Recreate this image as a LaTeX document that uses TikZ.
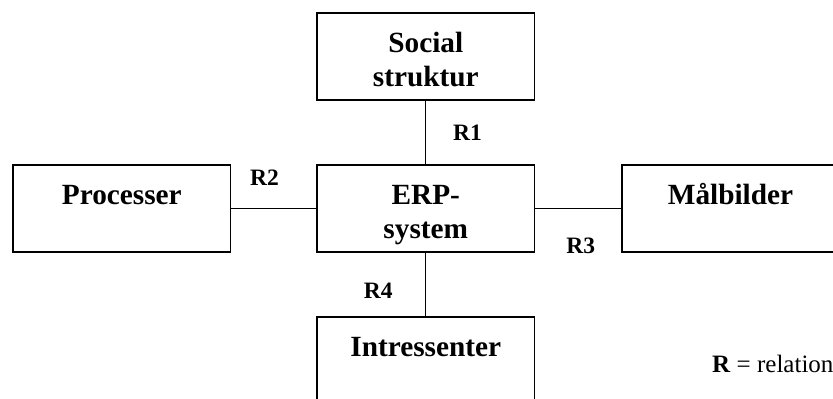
\documentclass[tikz,border=0pt]{standalone}
\usepackage{fontspec}
\setmainfont{Liberation Serif}
\begin{document}
\begin{tikzpicture}[x=1pt,y=-1pt,
  box/.style={draw, line width=1.8pt, minimum width=217.5pt, minimum height=87pt,
              inner sep=0pt, outer sep=0pt},
  boxtext/.style={anchor=base, align=center, inner sep=0pt,
                  font=\fontsize{29.3}{34.3}\selectfont\bfseries},
  rel/.style={anchor=base, inner sep=0pt, font=\fontsize{23.5}{28}\selectfont\bfseries},
  link/.style={line width=1.3pt}]
\useasboundingbox (0,0) rectangle (833,399);

% boxes
\node[box] (soc)  at (425.8,56.2)  {};
\node[box] (proc) at (121.8,208.2) {};
\node[box] (erp)  at (425.8,208.2) {};
\node[box] (mal)  at (730.5,208.2) {};
\node[box] (intr) at (425.8,360.8) {};

% box titles, set near the top edge (two-line titles sit on their last baseline)
\node[boxtext] (soc-t)  at ([yshift=-73.8pt]soc.north)  {Social\\struktur};
\node[boxtext] (proc-t) at ([yshift=-39.5pt]proc.north) {Processer};
\node[boxtext] (erp-t)  at ([yshift=-73.8pt]erp.north)  {ERP-\\system};
\node[boxtext] (mal-t)  at ([yshift=-39.5pt]mal.north)  {Målbilder};
\node[boxtext] (intr-t) at ([yshift=-39.5pt]intr.north) {Intressenter};

% relations
\draw[link] (soc)  -- (erp);
\draw[link] (proc) -- (erp);
\draw[link] (erp)  -- (mal);
\draw[link] (erp)  -- (intr);

\node[rel] (r1) at (467.6,140.5) {R1};
\node[rel] (r2) at (264.6,185.5) {R2};
\node[rel] (r3) at (580.8,253.5) {R3};
\node[rel] (r4) at (378.3,298.8) {R4};

% key
\node[anchor=base west, inner sep=0pt, font=\fontsize{25}{30}\selectfont] (key)
  at (712,372) {\textbf{R} = relation};
\end{tikzpicture}
\end{document}
